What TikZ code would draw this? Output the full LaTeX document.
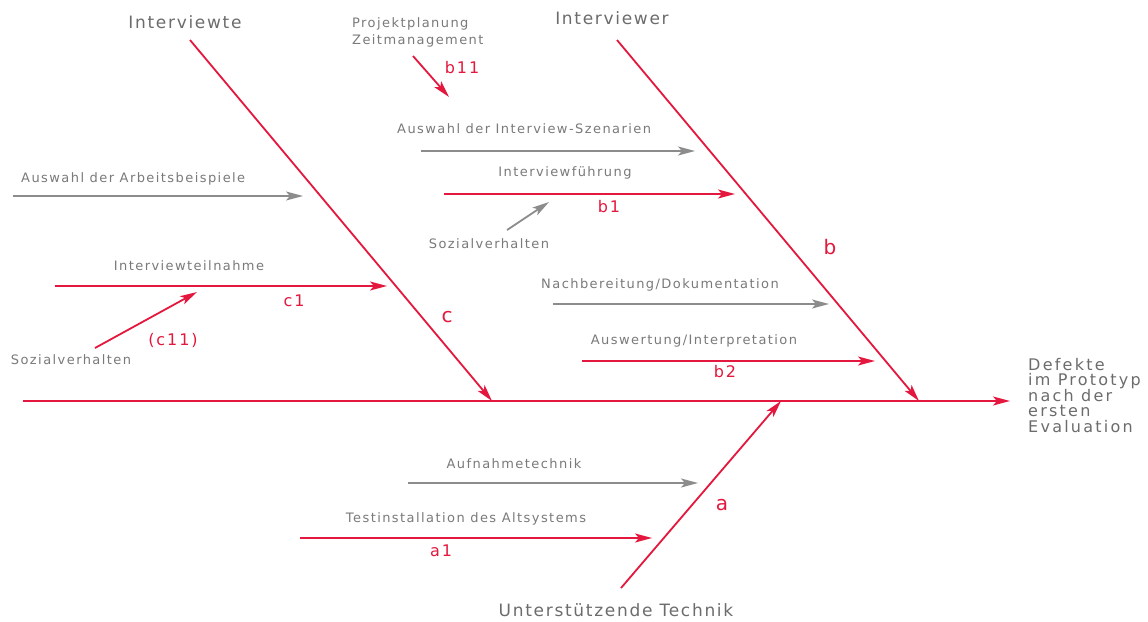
\documentclass[tikz,border=0pt]{standalone}
\usepackage{fontspec}
\setmainfont{DejaVu Sans}
\newfontfamily\lblfont[LetterSpace=11]{DejaVu Sans}
\newfontfamily\ttlfont[LetterSpace=10]{DejaVu Sans}
\newfontfamily\effont[LetterSpace=14]{DejaVu Sans}
\newfontfamily\redfont[LetterSpace=12]{DejaVu Sans}
\usetikzlibrary{arrows.meta}
\definecolor{fishred}{RGB}{228,24,62}
\definecolor{txtgray}{RGB}{122,122,122}
\definecolor{ttlgray}{RGB}{108,108,108}
\definecolor{arrgray}{RGB}{140,140,140}
\begin{document}
\begin{tikzpicture}[x=1pt,y=-1pt,
  tip/.style={-{Stealth[length=17pt,width=9pt,inset=4pt]}},
  redline/.style={draw=fishred,line width=1.8pt},
  redarrow/.style={redline,tip},
  grayarrow/.style={draw=arrgray,line width=1.8pt,tip},
  lbl/.style={text=txtgray,font=\lblfont\fontsize{13}{17}\selectfont,inner sep=0pt},
  ttl/.style={text=ttlgray,font=\ttlfont\fontsize{17}{19}\selectfont,inner sep=0pt},
  redlbl/.style={text=fishred,font=\redfont\fontsize{16}{18}\selectfont,inner sep=0pt},
  biglbl/.style={text=fishred,font=\fontsize{20}{22}\selectfont,inner sep=0pt}]
\useasboundingbox (0,0) rectangle (1148,621);
\fill[white] (0,0) rectangle (1148,621);

% spine
\coordinate (spL) at (23,401);
\coordinate (spR) at (1010,401);
\draw[redarrow] (spL) -- (spR);
\node[text=ttlgray,font=\effont\fontsize{16}{15.5}\selectfont,inner sep=0pt,align=left,anchor=north west] (effect) at (1028,358)
  {Defekte\\im Prototyp\\nach der\\ersten\\Evaluation};

% main branches
\coordinate (cS) at (190,40);   \coordinate (cE) at (492,401);
\coordinate (bS) at (617,40);   \coordinate (bE) at (919,401);
\coordinate (aS) at (621,588);  \coordinate (aE) at (781,401);
\draw[redarrow] (cS) -- (cE);
\draw[redarrow] (bS) -- (bE);
\draw[redarrow] (aS) -- (aE);
\node[ttl] (tc) at (185,22) {Interviewte};
\node[ttl] (tb) at (612,18) {Interviewer};
\node[ttl] (ta) at (616,610) {Unterstützende Technik};
\node[biglbl] (lc) at (447,317) {c};
\node[biglbl] (lb) at (830,247) {b};
\node[biglbl] (la) at (722,505) {a};

% branch c (Interviewte)
\coordinate (g1S) at (13,196); \coordinate (g1E) at (303,196);
\draw[grayarrow] (g1S) -- (g1E);
\node[lbl,anchor=west] (n1) at (21,179) {Auswahl der Arbeitsbeispiele};

\coordinate (c1S) at (55,286); \coordinate (c1E) at (387,286);
\draw[redarrow] (c1S) -- (c1E);
\node[lbl] (n2) at (189,266) {Interviewteilnahme};
\node[redlbl] (lc1) at (294,301) {c1};

\coordinate (c11S) at (95,348); \coordinate (c11E) at (197,292);
\draw[redarrow] (c11S) -- (c11E);
\node[redlbl] (lc11) at (173,340) {(c11)};
\node[lbl] (n3) at (71,360) {Sozialverhalten};

% branch b (Interviewer)
\node[lbl,align=left,anchor=north west] (n4) at (352,17) {Projektplanung\\Zeitmanagement};
\coordinate (b11S) at (413,56); \coordinate (b11E) at (449,97);
\draw[redarrow] (b11S) -- (b11E);
\node[redlbl] (lb11) at (462,68) {b11};

\coordinate (g2S) at (421,151); \coordinate (g2E) at (695,151);
\draw[grayarrow] (g2S) -- (g2E);
\node[lbl,anchor=west] (n5) at (397,129) {Auswahl der Interview-Szenarien};

\coordinate (b1S) at (444,194); \coordinate (b1E) at (735,194);
\draw[redarrow] (b1S) -- (b1E);
\node[lbl] (n6) at (565,173) {Interviewführung};
\node[redlbl] (lb1) at (609,207) {b1};

\coordinate (g3S) at (507,230); \coordinate (g3E) at (549,202);
\draw[grayarrow] (g3S) -- (g3E);
\node[lbl] (n7) at (489,244) {Sozialverhalten};

\coordinate (g4S) at (553,304); \coordinate (g4E) at (829,304);
\draw[grayarrow] (g4S) -- (g4E);
\node[lbl] (n8) at (660,285) {Nachbereitung/Dokumentation};

\coordinate (b2S) at (582,361); \coordinate (b2E) at (875,361);
\draw[redarrow] (b2S) -- (b2E);
\node[lbl] (n9) at (694,341) {Auswertung/Interpretation};
\node[redlbl] (lb2) at (725,372) {b2};

% branch a (Technik)
\coordinate (g5S) at (408,483); \coordinate (g5E) at (698,483);
\draw[grayarrow] (g5S) -- (g5E);
\node[lbl] (n10) at (514,464) {Aufnahmetechnik};

\coordinate (a1S) at (300,538); \coordinate (a1E) at (652,538);
\draw[redarrow] (a1S) -- (a1E);
\node[lbl] (n11) at (466,519) {Testinstallation des Altsystems};
\node[redlbl] (la1) at (441,551) {a1};
\end{tikzpicture}
\end{document}
